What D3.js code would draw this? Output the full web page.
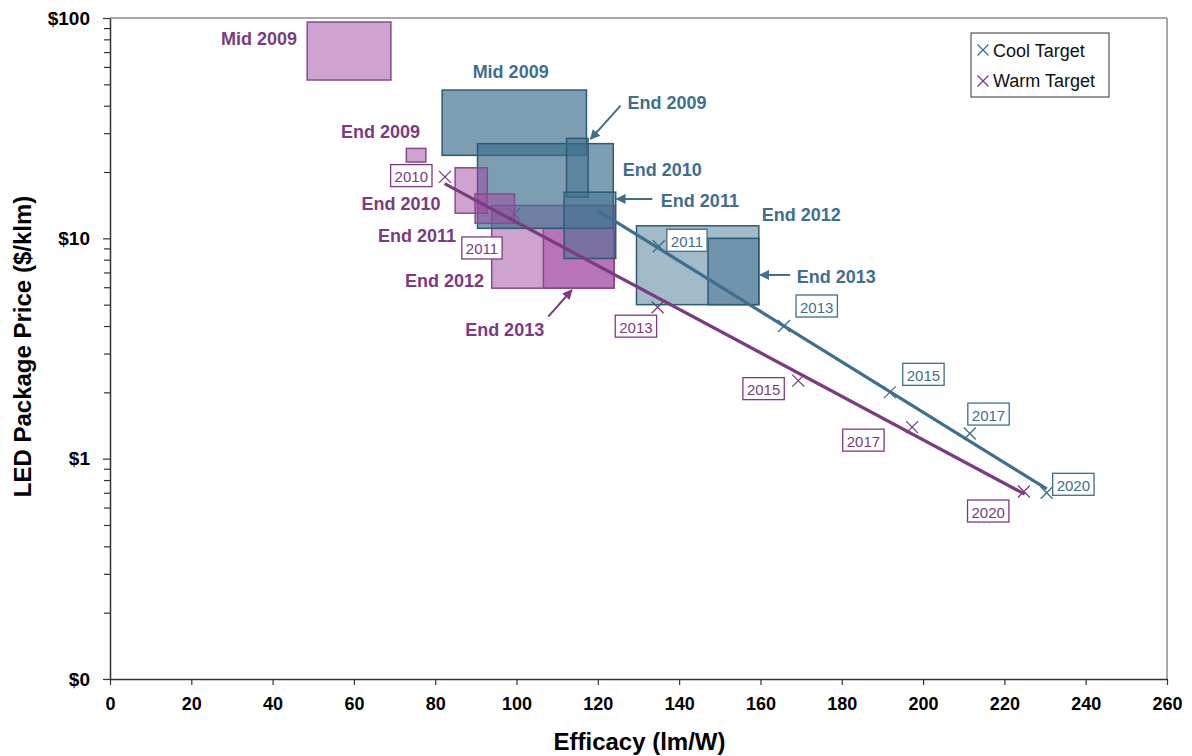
<!DOCTYPE html>
<html>
<head>
<meta charset="utf-8">
<script src="https://cdn.jsdelivr.net/npm/d3@7"></script>
<style>
  html, body { margin: 0; padding: 0; background: #fff; }
  svg { display: block; font-family: Arial, "Liberation Sans", sans-serif; }
</style>
</head>
<body>
<svg id="chart" width="1192" height="756"></svg>
<script>
// ---------------- DATA ----------------
const periods = ["Mid 2009", "End 2009", "End 2010", "End 2011", "End 2012", "End 2013"];

// Cool white LED package ranges (efficacy lm/W, price $/klm)
const coolEffLow    = [81.7, 112.3, 90.4, 111.7, 129.5, 147.1];
const coolEffHigh   = [117.2, 117.6, 123.8, 124.4, 159.6, 159.6];
const coolPriceLow  = [23.8, 15.4, 11.1, 8.1, 5.0, 5.0];
const coolPriceHigh = [47.1, 28.4, 26.9, 16.2, 11.4, 10.0];

// Warm white LED package ranges
const warmEffLow    = [48.5, 72.9, 84.9, 89.8, 93.9, 106.6];
const warmEffHigh   = [69.1, 77.7, 92.8, 99.5, 124.0, 124.0];
const warmPriceLow  = [52.3, 22.2, 13.0, 11.7, 5.94, 5.94];
const warmPriceHigh = [95.9, 25.6, 20.9, 15.9, 14.1, 11.1];

// Targets
const coolTargetYears = ["2011", "2013", "2015", "2017", "2020"];
const coolTargetEff   = [135, 165.8, 191.8, 211.5, 230.4];
const coolTargetPrice = [9.2, 4.0, 2.0, 1.3, 0.70];

const warmTargetYears = ["2010", "2011", "2013", "2015", "2017", "2020"];
const warmTargetEff   = [82.4, 99.4, 134.7, 169.3, 197.3, 224.8];
const warmTargetPrice = [19.0, 12.9, 4.87, 2.26, 1.39, 0.71];

// Trend lines
const coolLineEff   = [119.9, 230.4];
const coolLinePrice = [13.4, 0.73];
const warmLineEff   = [82.3, 225.0];
const warmLinePrice = [17.7, 0.69];

// Axis ticks
const xTicks = [0, 20, 40, 60, 80, 100, 120, 140, 160, 180, 200, 220, 240, 260];
const yTicks = [0.1, 1, 10, 100];
const yTickLabels = ["$0", "$1", "$10", "$100"];

// ---------------- LAYOUT / STYLE ----------------
const M = { left: 110, right: 1167, top: 18, bottom: 679 };
const COOL = "#3f6e8f", WARM = "#7b3b80";
const COOL_FILL = "#3e6e8e", WARM_FILL = "#9f479f";
const COOL_STROKE = "#2e5a74", WARM_STROKE = "#8a4a8c";
const coolOpacity = [0.68, 0.5, 0.68, 0.5, 0.48, 0.5];
const warmOpacity = [0.5, 0.5, 0.5, 0.5, 0.5, 0.5];

// period label anchors (data space) for annotations
const warmLabelEff   = [46.0, 76.25, 81.3, 85.1, 92.0, 106.8];
const warmLabelPrice = [75.4, 28.5, 13.45, 9.66, 6.03, 3.62];
const coolLabelEff   = [89.2, 127.3, 126.1, 135.5, 160.3, 168.9];
const coolLabelPrice = [53.3, 38.7, 19.25, 13.9, 12.0, 6.25];

// arrows [fromEff, fromPrice, toEff, toPrice]
const warmArrows = [[107.8, 4.41, 113.6, 5.83]];
const coolArrows = [[125.6, 40.0, 118.2, 28.2], [133.4, 15.1, 124.6, 15.1], [167.3, 6.82, 159.9, 6.82]];

// year label box offsets (px, relative to marker)
const coolYearDx = [8, 12, 13, -2, 6];
const coolYearDy = [-6, -20, -18, -19.5, -8.5];
const warmYearDx = [-13, -12, -1, -14, -28, -15];
const warmYearDy = [-1.3, 34, 19, 8, 13, 19.6];

// ---------------- SCALES ----------------
const x = d3.scaleLinear().domain([0, 260]).range([M.left, M.right]);
const y = d3.scaleLog().domain([0.1, 100]).range([M.bottom, M.top]);

const svg = d3.select("#chart");

const defs = svg.append("defs");
[["arrCool", COOL], ["arrWarm", WARM]].forEach(([id, c]) => {
  defs.append("marker").attr("id", id)
    .attr("viewBox", "0 0 10 10").attr("refX", 9).attr("refY", 5)
    .attr("markerWidth", 5).attr("markerHeight", 5).attr("orient", "auto")
    .attr("markerUnits", "strokeWidth")
    .append("path").attr("d", "M0,0 L10,5 L0,10 z").attr("fill", c);
});

// frame (top and right borders)
svg.append("line").attr("x1", M.left).attr("x2", M.right).attr("y1", M.top).attr("y2", M.top)
  .attr("stroke", "#8c8c8c").attr("stroke-width", 1.5);
svg.append("line").attr("x1", M.right).attr("x2", M.right).attr("y1", M.top).attr("y2", M.bottom)
  .attr("stroke", "#8c8c8c").attr("stroke-width", 1.5);

// ---------------- MARKERS (under the boxes) ----------------
function xMark(g, cx, cy, color, s = 6) {
  g.append("path")
    .attr("d", `M${cx - s},${cy - s}L${cx + s},${cy + s}M${cx - s},${cy + s}L${cx + s},${cy - s}`)
    .attr("stroke", color).attr("stroke-width", 1.3).attr("fill", "none");
}
const mk = svg.append("g");
coolTargetEff.forEach((e, i) => xMark(mk, x(e), y(coolTargetPrice[i]), COOL));
warmTargetEff.forEach((e, i) => xMark(mk, x(e), y(warmTargetPrice[i]), WARM));

// ---------------- BOXES ----------------
const boxLayer = svg.append("g");
function drawBox(i, series) {
  const isCool = series === "cool";
  const x0 = isCool ? coolEffLow[i] : warmEffLow[i];
  const x1 = isCool ? coolEffHigh[i] : warmEffHigh[i];
  const p0 = isCool ? coolPriceLow[i] : warmPriceLow[i];
  const p1 = isCool ? coolPriceHigh[i] : warmPriceHigh[i];
  boxLayer.append("rect")
    .attr("x", x(x0)).attr("y", y(p1))
    .attr("width", x(x1) - x(x0)).attr("height", y(p0) - y(p1))
    .attr("fill", isCool ? COOL_FILL : WARM_FILL)
    .attr("fill-opacity", isCool ? coolOpacity[i] : warmOpacity[i])
    .attr("stroke", isCool ? COOL_STROKE : WARM_STROKE)
    .attr("stroke-width", 1.5);
}
[["warm", 4], ["warm", 5], ["cool", 0], ["cool", 2], ["cool", 1], ["cool", 3], ["cool", 4], ["cool", 5],
 ["warm", 0], ["warm", 1], ["warm", 2], ["warm", 3]].forEach(([s, i]) => drawBox(i, s));

// ---------------- TREND LINES ----------------
const line = d3.line().x(d => x(d[0])).y(d => y(d[1]));
svg.append("path").datum(warmLineEff.map((e, i) => [e, warmLinePrice[i]]))
  .attr("d", line).attr("stroke", WARM).attr("stroke-width", 3.2).attr("fill", "none");
svg.append("path").datum(coolLineEff.map((e, i) => [e, coolLinePrice[i]]))
  .attr("d", line).attr("stroke", COOL).attr("stroke-width", 3.2).attr("fill", "none");

function yearBox(txt, px, py, color, dx, dy, alignRight) {
  const g = svg.append("g");
  const t = g.append("text").text(txt).attr("font-size", 15).attr("fill", color)
    .attr("dominant-baseline", "central");
  const w = t.node().getComputedTextLength() + 8, h = 22;
  const bx = alignRight ? px + dx - w : px + dx;
  const by = py + dy - h / 2;
  g.insert("rect", "text").attr("x", bx).attr("y", by).attr("width", w).attr("height", h)
    .attr("fill", "#fff").attr("stroke", color).attr("stroke-width", 1.3);
  t.attr("x", bx + 4).attr("y", py + dy + 1);
}
coolTargetYears.forEach((yr, i) =>
  yearBox(yr, x(coolTargetEff[i]), y(coolTargetPrice[i]), COOL, coolYearDx[i], coolYearDy[i], false));
warmTargetYears.forEach((yr, i) =>
  yearBox(yr, x(warmTargetEff[i]), y(warmTargetPrice[i]), WARM, warmYearDx[i], warmYearDy[i], true));

// ---------------- PERIOD LABELS ----------------
periods.forEach((p, i) => {
  svg.append("text").text(p)
    .attr("x", x(warmLabelEff[i])).attr("y", y(warmLabelPrice[i]))
    .attr("text-anchor", "end").attr("font-size", 18).attr("font-weight", "bold").attr("fill", WARM);
  svg.append("text").text(p)
    .attr("x", x(coolLabelEff[i])).attr("y", y(coolLabelPrice[i]))
    .attr("text-anchor", "start").attr("font-size", 18).attr("font-weight", "bold").attr("fill", COOL);
});
warmArrows.forEach(a => svg.append("line")
  .attr("x1", x(a[0])).attr("y1", y(a[1])).attr("x2", x(a[2])).attr("y2", y(a[3]))
  .attr("stroke", WARM).attr("stroke-width", 2).attr("marker-end", "url(#arrWarm)"));
coolArrows.forEach(a => svg.append("line")
  .attr("x1", x(a[0])).attr("y1", y(a[1])).attr("x2", x(a[2])).attr("y2", y(a[3]))
  .attr("stroke", COOL).attr("stroke-width", 2).attr("marker-end", "url(#arrCool)"));

// ---------------- AXES ----------------
const xAxis = svg.append("g").attr("transform", `translate(0,${M.bottom})`)
  .call(d3.axisBottom(x).tickValues(xTicks).tickSize(6).tickPadding(12).tickSizeOuter(0));
xAxis.select(".domain").attr("stroke", "#333").attr("stroke-width", 1.5);
xAxis.selectAll(".tick line").attr("stroke", "#333").attr("stroke-width", 1.2);
xAxis.selectAll("text").attr("font-size", 18).attr("font-weight", "bold").attr("fill", "#000")
  .attr("font-family", "Arial, 'Liberation Sans', sans-serif");

const minor = [];
[0.1, 1, 10].forEach(d => { for (let k = 2; k <= 9; k++) minor.push(d * k); });
const yMinor = svg.append("g").attr("transform", `translate(${M.left},0)`)
  .call(d3.axisLeft(y).tickValues(minor).tickSize(6).tickFormat(""));
yMinor.select(".domain").remove();
yMinor.selectAll(".tick line").attr("stroke", "#333").attr("stroke-width", 1.2);

const yAxis = svg.append("g").attr("transform", `translate(${M.left},0)`)
  .call(d3.axisLeft(y).tickValues(yTicks).tickSize(7).tickPadding(13).tickSizeOuter(0)
    .tickFormat((d, i) => yTickLabels[i]));
yAxis.select(".domain").attr("stroke", "#333").attr("stroke-width", 1.5);
yAxis.selectAll(".tick line").attr("stroke", "#333").attr("stroke-width", 1.2);
yAxis.selectAll("text").attr("font-size", 19).attr("font-weight", "bold").attr("fill", "#000")
  .attr("font-family", "Arial, 'Liberation Sans', sans-serif");

svg.append("text").text("Efficacy (lm/W)")
  .attr("x", (M.left + M.right) / 2 + 1).attr("y", 750)
  .attr("text-anchor", "middle").attr("font-size", 24).attr("font-weight", "bold").attr("fill", "#000");
svg.append("text").text("LED Package Price ($/klm)")
  .attr("transform", `translate(31,${(195 + 498) / 2}) rotate(-90)`)
  .attr("text-anchor", "middle").attr("font-size", 24).attr("font-weight", "bold").attr("fill", "#000");

// ---------------- LEGEND ----------------
const lg = svg.append("g");
lg.append("rect").attr("x", 971).attr("y", 33).attr("width", 138).attr("height", 64)
  .attr("fill", "#fff").attr("stroke", "#333").attr("stroke-width", 1);
xMark(lg, 983, 50, COOL, 5.5);
xMark(lg, 983, 81, WARM, 5.5);
lg.append("text").text("Cool Target").attr("x", 993).attr("y", 57).attr("font-size", 18).attr("fill", "#111");
lg.append("text").text("Warm Target").attr("x", 993).attr("y", 87).attr("font-size", 18).attr("fill", "#111");
</script>
</body>
</html>
